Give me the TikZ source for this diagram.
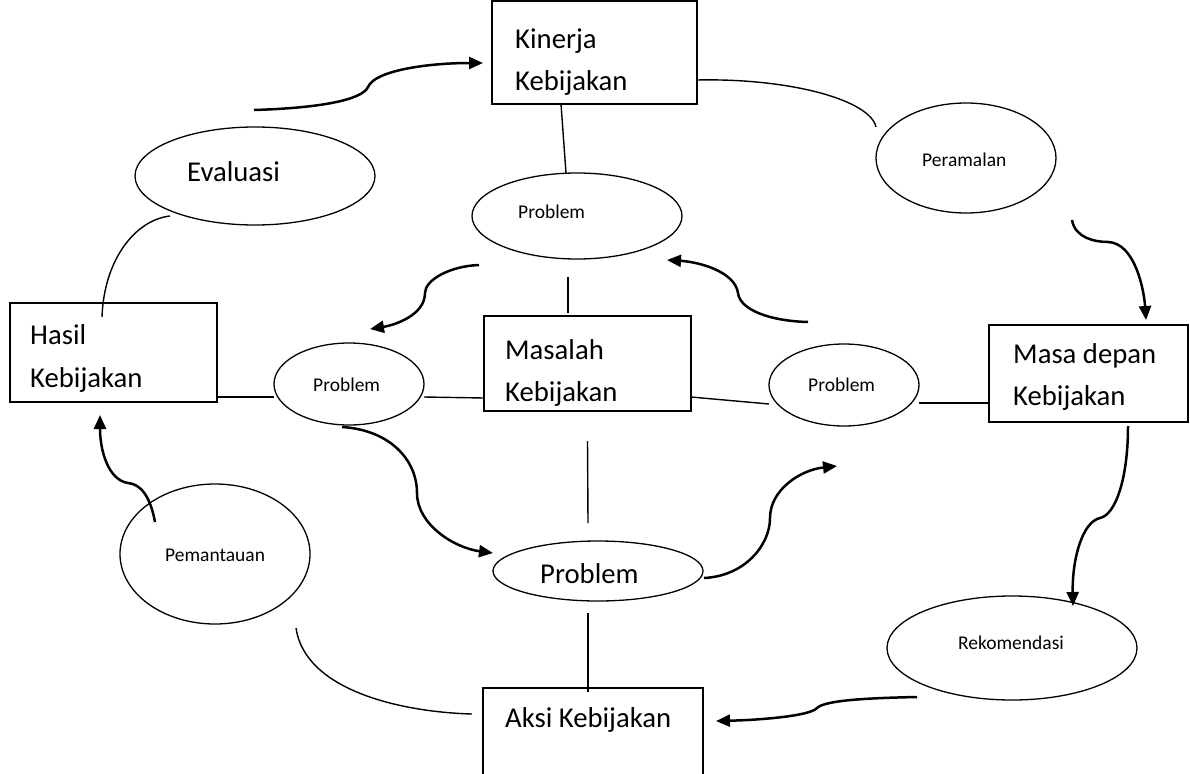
\documentclass[tikz,border=0pt]{standalone}
\usepackage{fontspec}
\setmainfont{Carlito}
\usetikzlibrary{shapes.geometric,arrows.meta}
\begin{document}
\begin{tikzpicture}[x=1pt,y=-1pt,
  box/.style={draw,rectangle,line width=1.4pt,inner sep=0pt,outer sep=0pt},
  oval/.style={draw,ellipse,line width=1.3pt,inner sep=0pt,outer sep=0pt},
  big/.style={inner sep=0pt,anchor=base west,font=\fontsize{28.7}{34}\selectfont},
  small/.style={inner sep=0pt,anchor=base west,font=\fontsize{19.5}{24}\selectfont},
  thin/.style={line width=1.4pt},
  flow/.style={line width=2.5pt,-{Triangle[length=14pt,width=12pt]}},
]
\useasboundingbox (0,0) rectangle (1190,773);
\fill[white] (0,0) rectangle (1190,773);

% boxes
\node[box,minimum width=205pt,minimum height=103pt] (kin) at (594.5,52.5) {};
\node[box,minimum width=207pt,minimum height=99pt] (hasil) at (113.5,352.5) {};
\node[box,minimum width=207pt,minimum height=95pt] (masalah) at (587.5,363.5) {};
\node[box,minimum width=199pt,minimum height=97pt] (masa) at (1088.5,373.5) {};
\node[box,minimum width=220pt,minimum height=112pt] (aksi) at (593,744) {};

% ellipses
\node[oval,minimum width=240pt,minimum height=98pt] (eval) at (255,176) {};
\node[oval,minimum width=180pt,minimum height=110pt] (per) at (966,158) {};
\node[oval,minimum width=210pt,minimum height=86pt] (probTop) at (577,216) {};
\node[oval,minimum width=150pt,minimum height=82pt] (probL) at (349,384) {};
\node[oval,minimum width=150pt,minimum height=82pt] (probR) at (844,385) {};
\node[oval,minimum width=210pt,minimum height=60pt] (probB) at (598,571) {};
\node[oval,minimum width=190pt,minimum height=140pt] (pem) at (215,554) {};
\node[oval,minimum width=250pt,minimum height=104pt] (rek) at (1012,648) {};

% texts
\node[big] (kinT1) at (515,49) {Kinerja};
\node[big] (kinT2) at (515,91) {Kebijakan};
\node[big] (evalT) at (187,181) {Evaluasi};
\node[small] (perT) at (922,166) {Peramalan};
\node[small] (probTopT) at (518,218) {Problem};
\node[big] (hasilT1) at (30,344) {Hasil};
\node[big] (hasilT2) at (30,387) {Kebijakan};
\node[small] (probLT) at (313,391) {Problem};
\node[big] (masT1) at (505,359) {Masalah};
\node[big] (masT2) at (505,401) {Kebijakan};
\node[small] (probRT) at (808,391) {Problem};
\node[big] (masaT1) at (1013,363) {Masa depan};
\node[big] (masaT2) at (1013,405) {Kebijakan};
\node[big] (probBT) at (540,583) {Problem};
\node[small] (pemT) at (165,561) {Pemantauan};
\node[small] (rekT) at (958,649) {Rekomendasi};
\node[big] (aksiT) at (505,727) {Aksi Kebijakan};

% thin connectors
\draw[thin] ([xshift=-33.5pt]kin.south) -- ([xshift=-11pt]probTop.north);
\draw[thin] ([xshift=-9pt,yshift=-18pt]probTop.south) -- ([xshift=-19.5pt,yshift=3pt]masalah.north);
\draw[thin] ([yshift=-44.5pt]hasil.east) -- ([yshift=-13pt]probL.west);
\draw[thin] ([yshift=-13pt]probL.east) -- ([yshift=-34.5pt]masalah.west);
\draw[thin] ([yshift=-33.5pt]masalah.east) -- ([yshift=-19pt]probR.west);
\draw[thin] ([yshift=-18pt]probR.east) -- ([yshift=-29.5pt]masa.west);
\draw[thin] ([yshift=-30pt]masalah.south) -- ([xshift=-10pt,yshift=18pt]probB.north);
\draw[thin] ([xshift=-10pt,yshift=-12pt]probB.south) -- ([xshift=-5pt,yshift=-4pt]aksi.north);
\draw[thin] ([yshift=-27.5pt]kin.east) .. controls (790,78) and (870,100) .. ([yshift=31pt]per.west);
\draw[thin] ([xshift=-85pt,yshift=9pt]eval.south) .. controls (135,220) and (104,260) .. ([xshift=-11.5pt,yshift=-14pt]hasil.north);
\draw[thin] ([xshift=81pt,yshift=-4pt]pem.south) .. controls (305,690) and (400,712) .. ([xshift=-11pt,yshift=30pt]aksi.west);

% thick arrows
\draw[flow] ([xshift=-1pt,yshift=17pt]eval.north) .. controls (320,108) and (362,100) .. (368,87)
  .. controls (375,70) and (430,63) .. ([xshift=-9pt,yshift=-10.5pt]kin.west);
\draw[flow] ([xshift=106pt,yshift=-7pt]per.south) .. controls (1075,238) and (1095,242) .. (1108,242)
  .. controls (1135,243) and (1144,290) .. ([xshift=57.5pt,yshift=5pt]masa.north);
\draw[flow] ([xshift=39.5pt,yshift=-4pt]masa.south) .. controls (1128,480) and (1115,515) .. (1100,518)
  .. controls (1082,522) and (1072,560) .. ([xshift=61pt,yshift=-10pt]rek.north);
\draw[flow] ([xshift=30pt,yshift=-49pt]rek.west) .. controls (870,698) and (825,700) .. (817,708)
  .. controls (810,716) and (760,720) .. ([xshift=13pt,yshift=23pt]aksi.east);
\draw[flow] ([xshift=-60pt,yshift=-38pt]pem.north) .. controls (150,495) and (140,484) .. (128,483)
  .. controls (108,480) and (100,450) .. ([xshift=-13.5pt,yshift=-13pt]hasil.south);
\draw[flow] ([xshift=-98pt,yshift=-6pt]probTop.south) .. controls (450,266) and (425,280) .. (425,293)
  .. controls (425,315) and (395,325) .. ([xshift=21pt,yshift=14pt]probL.north);
\draw[flow] ([xshift=-36pt,yshift=22pt]probR.north) .. controls (770,321) and (740,310) .. (738,293)
  .. controls (735,272) and (700,262) .. ([xshift=-15pt,yshift=-44pt]probTop.east);
\draw[flow] ([xshift=-7pt,yshift=-2pt]probL.south) .. controls (390,430) and (417,460) .. (417,493)
  .. controls (417,525) and (455,548) .. ([yshift=18pt]probB.west);
\draw[flow] ([xshift=1pt,yshift=-7pt]probB.east) .. controls (745,576) and (770,545) .. (770,518)
  .. controls (770,490) and (800,470) .. ([xshift=-7pt,yshift=-40pt]probR.south);
\end{tikzpicture}
\end{document}
